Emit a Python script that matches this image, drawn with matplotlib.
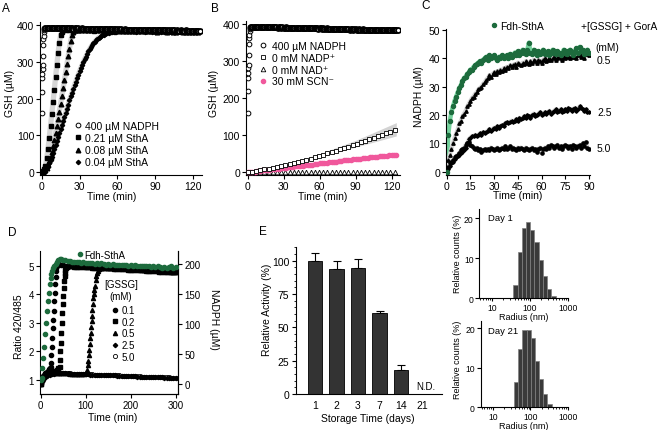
import numpy as np
import matplotlib
matplotlib.use("Agg")
import matplotlib.pyplot as plt
from matplotlib.lines import Line2D
from matplotlib.ticker import FixedLocator, MultipleLocator, LogLocator, NullFormatter

plt.rcParams['font.family'] = ['Liberation Sans', 'DejaVu Sans']
plt.rcParams['axes.linewidth'] = 0.8

W, H = 658, 431
fig = plt.figure(figsize=(W / 100, H / 100), dpi=100)
fig.patch.set_facecolor('white')

# ======================= DATA =======================
# ---- Panel A : GSH (uM) vs time (min)
tA_nadph = [0.2, 0.35, 0.5, 0.65, 0.8, 0.95, 1.1, 1.25, 1.4, 1.55, 1.7, 1.85, 2.0, 2.2, 2.4] + list(np.arange(3, 126, 1))
gA_nadph = [160, 218, 255, 267, 280, 290, 316, 346, 362, 371, 380, 386, 389, 391, 392,
            392, 392, 393, 392, 392, 392, 393, 392, 392, 392, 391, 392, 392, 391, 392, 392, 391, 391, 392, 391,
            391, 391, 390, 391, 391, 390, 391, 390, 390, 391, 390, 390, 390, 389, 390, 390, 389, 390, 389, 389,
            389, 390, 389, 389, 389, 388, 389, 389, 388, 389, 388, 388, 388, 389, 388, 388, 387, 388, 388, 387,
            388, 387, 387, 388, 387, 387, 387, 386, 387, 387, 386, 387, 387, 386, 386, 387, 386, 386, 386, 387,
            386, 386, 385, 386, 386, 385, 386, 386, 385, 385, 386, 385, 385, 386, 385, 385, 385, 384, 385, 385,
            384, 385, 385, 384, 385, 384, 384, 385, 384, 384, 384, 385, 384, 384, 383, 384, 384, 383, 384, 384,
            383, 384, 383]
n_rise_nadph = 15  # points of the initial rise (drawn as open circles)
tA_021 = list(np.arange(0, 18, 1)) + list(np.arange(19, 125, 2.5))
gA_021 = [0, 3, 8, 18, 38, 64, 94, 126, 158, 190, 224, 258, 292, 324, 352, 372, 382, 386,
          386, 386, 385, 386, 385, 385, 386, 385, 385, 384, 385, 385, 384, 385, 384, 384, 385, 384, 384, 383,
          384, 384, 383, 384, 383, 383, 384, 383, 383, 382, 383, 383, 382, 383, 382, 382, 383, 382, 382, 381,
          382, 382, 381]
tA_008 = list(np.arange(0, 28, 1)) + list(np.arange(29, 125, 2.5))
gA_008 = [0, 1, 3, 6, 12, 20, 30, 42, 56, 72, 88, 106, 125, 145, 165, 186, 207, 228, 250, 271, 293, 315,
          336, 357, 372, 381, 385, 386,
          386, 385, 386, 385, 385, 386, 385, 385, 384, 385, 384, 384, 385, 384, 384, 383, 384, 384, 383, 384,
          383, 383, 384, 383, 383, 382, 383, 383, 382, 383, 382, 382, 383, 382, 382, 381, 382, 382, 381]
tA_004 = list(np.arange(0, 61, 1)) + list(np.arange(62, 125, 2.5))
gA_004 = [0, 1, 3, 7, 12, 18, 25, 33, 42, 52, 62, 73, 84, 95, 106, 117, 129, 140, 151, 162,
          173, 184, 195, 206, 216, 226, 236, 246, 256, 265, 274, 283, 291, 299, 307, 314, 321, 328, 334, 340,
          345, 350, 354, 358, 362, 365, 368, 370, 372, 374, 376, 377, 378, 379, 380, 381, 381, 382, 382, 382, 383,
          383, 383, 384, 383, 383, 382, 383, 383, 382, 383, 382, 382, 383, 382, 382, 381, 382, 382, 381, 382,
          381, 381, 382, 381, 381, 380]
legend_A = ['400 µM NADPH', '0.21 µM SthA', '0.08 µM SthA', '0.04 µM SthA']

# ---- Panel B
tB_nadp = np.arange(0, 124, 3.5)
gB_nadp = [0, 2, 4, 6, 8, 10, 12, 14, 16.5, 19, 22, 25, 28, 31, 34, 37, 41, 44, 48, 51,
           55, 58, 62, 65, 69, 73, 77, 81, 85, 89, 93, 97, 101, 105, 110, 114]
tB_band = [0, 30, 60, 90, 124]
gB_band_lo = [0, 15, 40, 68, 98]
gB_band_hi = [0, 21, 50, 86, 134]
tB_nad = np.arange(0, 124, 3.5)
gB_nad = [0, 1, 1, 2, 2, 2, 2, 2, 2, 2, 2, 2, 2, 2, 2, 2, 2, 2, 2, 2,
          2, 2, 2, 2, 2, 2, 2, 2, 2, 2, 2, 2, 2, 2, 2, 2]
tB_scn = np.arange(0, 125, 2)
gB_scn = [0, 1, 1.5, 2, 3, 4, 5, 5.5, 6, 7, 8, 8.5, 9, 10, 11, 12, 12.5, 13, 14, 15,
          16, 16.5, 17, 18, 19, 20, 20.5, 21, 22, 23, 24, 24.5, 25, 26, 27, 28, 28.5, 29, 30, 31,
          32, 32.5, 33, 34, 35, 35.5, 36, 37, 38, 38.5, 39, 40, 41, 41.5, 42, 43, 44, 44.5, 45, 46,
          47, 47.5, 48]
legend_B = ['400 µM NADPH', '0 mM NADP\u207a', '0 mM NAD\u207a', '30 mM SCN\u207b']

# ---- Panel C : NADPH (uM)
tC = np.arange(0, 91, 1)
nC_fdh = [0, 13, 18, 21, 23, 25, 26.5, 28, 29.5, 30.5, 32, 33, 33.5, 34.5, 35, 36, 36, 37, 37.5, 38,
          38.5, 39, 38.5, 39.5, 40, 40.5, 39.5, 41, 40, 40.5, 41, 40, 39.5, 40.5, 40, 41, 40, 40.5, 41, 40,
          41.5, 40.5, 41, 42, 41, 42.5, 41, 42, 43, 42, 41.5, 43, 45.5, 42, 41.5, 43, 42, 41, 42.5, 41.5,
          42, 43, 41.5, 42, 42.5, 41, 42, 43, 42, 41.5, 42.5, 42, 41, 42, 43, 42, 41.5, 42.5, 43, 42,
          41, 42.5, 43.5, 42, 44, 42.5, 43, 41.5, 42, 43, 42]
nC_05 = [0, 4, 6, 8, 10, 12, 13.5, 15, 17, 18, 19.5, 20.5, 21.5, 23, 24, 25, 26, 26.5, 27.5, 28,
         29, 29.5, 30, 31, 31.5, 32.5, 33, 34, 33.5, 34.5, 35, 34.5, 35.5, 35, 36, 35.5, 36.5, 36, 37, 36.5,
         37.5, 37, 37.5, 38, 37, 38.5, 38, 37.5, 38.5, 38, 39, 38.5, 38, 39, 38.5, 39.5, 39, 38.5, 39.5, 39,
         38.5, 39.5, 40, 39, 39.5, 40, 39.5, 40, 40.5, 39.5, 40, 40.5, 40, 39.5, 40.5, 40, 40.5, 41, 40, 40.5,
         41, 40.5, 40, 41, 41.5, 40.5, 41, 40, 41.5, 42, 41]
nC_25 = [0, 1, 2, 3, 3.5, 4.5, 5, 5.5, 6, 6.5, 7, 7.5, 8.5, 10, 11.5, 12, 12.5, 12.5, 13, 12.5,
         13, 13.5, 13, 14, 13.5, 14, 14.5, 15, 14.5, 15, 15.5, 15, 16, 15.5, 16, 16.5, 16, 17, 17.5, 17,
         17.5, 18, 17.5, 18, 18.5, 18, 19, 18.5, 19, 19.5, 19, 20, 19.5, 19, 20, 20.5, 19.5, 20, 20.5, 21,
         20, 20.5, 21, 20.5, 21, 21.5, 20.5, 21, 21.5, 22, 21, 21.5, 22, 21, 21.5, 22, 21.5, 22.5, 22, 21.5,
         22, 22.5, 21.5, 22, 23, 22.5, 22, 21.5, 22, 21, 21]
nC_50 = [0, 1.5, 3, 3.5, 4, 5, 5.5, 6, 6.5, 7.5, 8, 8.5, 9.5, 10, 10.5, 9.5, 9, 8.5, 8, 8.5,
         7.5, 8, 7, 7.5, 8, 7.5, 8, 7.5, 8.5, 8, 7.5, 8, 8.5, 7.5, 8, 8.5, 8, 9, 8, 8.5,
         9, 8, 8.5, 8, 7.5, 8.5, 8, 8.5, 8, 7.5, 8.5, 8, 7.5, 8, 8.5, 7.5, 8, 7, 8, 8.5,
         6.5, 8, 8.5, 8, 9, 8.5, 9.5, 9, 8.5, 9, 9.5, 8.5, 9, 8, 9, 9.5, 9, 8.5, 9, 8,
         9.5, 9, 8.5, 9, 9.5, 8.5, 10, 9, 10.5, 8.5, 8]
conc_C = ['0.5', '2.5', '5.0']

# ---- Panel D : ratio 420/485 (left) and NADPH uM (right, Fdh-SthA)
tD_fdh = [0, 2, 4, 6, 8, 10, 12, 14, 16, 18, 20, 22, 24, 26, 28, 30, 33, 36, 39, 42] + list(np.arange(45, 301, 5))
nD_fdh = [6, 10, 26, 43, 62, 83, 102, 121, 138, 152, 166, 176, 183, 189, 193, 196, 200, 203, 206, 208,
          208, 207, 206, 205, 205, 204, 204, 203, 203, 202, 203, 202, 201, 202, 201, 200, 201, 200, 201, 200,
          199, 200, 199, 200, 199, 198, 199, 198, 199, 198, 197, 198, 197, 198, 197, 196, 197, 196, 197, 196,
          195, 196, 195, 196, 195, 194, 195, 194, 195, 196, 194, 195]
tD_01 = list(np.arange(0, 22, 2)) + [22, 23, 24, 25, 26, 27, 28, 29, 30, 31, 32, 33, 34, 35, 36, 38, 40] + list(np.arange(45, 301, 5))
rD_01 = [0.85, 0.95, 1.05, 1.12, 1.18, 1.22, 1.25, 1.28, 1.32, 1.38, 1.42,
         1.45, 1.6, 1.85, 2.15, 2.45, 2.8, 3.1, 3.4, 3.75, 4.05, 4.35, 4.6, 4.8, 4.92, 5.0, 5.05, 5.05,
         5.02, 5.01, 5.0, 5.0, 4.99, 4.99, 4.98, 4.98, 4.97, 4.97, 4.97, 4.96, 4.96, 4.96, 4.95, 4.95, 4.95,
         4.94, 4.94, 4.94, 4.93, 4.93, 4.92, 4.92, 4.92, 4.91, 4.91, 4.9, 4.9, 4.89, 4.89, 4.88, 4.88, 4.87,
         4.87, 4.86, 4.86, 4.85, 4.85, 4.84, 4.84, 4.83, 4.83, 4.82, 4.82, 4.81, 4.81, 4.8, 4.8, 4.79, 4.79, 4.78]
tD_02 = list(np.arange(0, 42, 3)) + [42, 43, 44, 45, 46, 47, 48, 49, 50, 51, 52, 53, 54, 55, 56, 58, 60] + list(np.arange(63, 301, 5))
rD_02 = [0.85, 0.98, 1.08, 1.15, 1.2, 1.22, 1.25, 1.26, 1.27, 1.28, 1.3, 1.32, 1.35, 1.4,
         1.45, 1.7, 2.0, 2.3, 2.65, 3.0, 3.35, 3.65, 3.95, 4.2, 4.45, 4.62, 4.75, 4.85, 4.9, 4.95, 4.97,
         4.97, 4.97, 4.96, 4.96, 4.96, 4.95, 4.95, 4.94, 4.94, 4.94, 4.93, 4.93, 4.92, 4.92, 4.92, 4.91, 4.91,
         4.9, 4.9, 4.9, 4.89, 4.89, 4.88, 4.88, 4.87, 4.87, 4.86, 4.86, 4.85, 4.85, 4.84, 4.84, 4.83, 4.83,
         4.82, 4.82, 4.81, 4.81, 4.8, 4.8, 4.79, 4.79, 4.78, 4.78, 4.77, 4.77, 4.76, 4.76]
tD_05 = list(np.arange(0, 103, 4)) + [102, 104, 105, 106, 107, 108, 109, 110, 111, 112, 113, 114, 115, 116, 117,
                                      118, 119, 120, 122, 124, 126, 128, 130, 133, 136] + list(np.arange(140, 301, 5))
rD_05 = [0.85, 1.0, 1.1, 1.16, 1.2, 1.22, 1.23, 1.23, 1.24, 1.24, 1.24, 1.23, 1.23, 1.23, 1.22, 1.22, 1.22,
         1.21, 1.21, 1.21, 1.2, 1.2, 1.2, 1.2, 1.19, 1.22,
         1.25, 1.35, 1.5, 1.65, 1.85, 2.05, 2.25, 2.45, 2.65, 2.85, 3.05, 3.25, 3.45, 3.65, 3.85, 4.0, 4.15,
         4.3, 4.5, 4.65, 4.75, 4.82, 4.87, 4.91, 4.93,
         4.94, 4.94, 4.93, 4.93, 4.93, 4.92, 4.92, 4.91, 4.91, 4.9, 4.9, 4.9, 4.89, 4.89, 4.88, 4.88, 4.87,
         4.87, 4.86, 4.86, 4.85, 4.85, 4.84, 4.84, 4.83, 4.83, 4.82, 4.81, 4.81, 4.8, 4.79, 4.79, 4.78]
tD_low = np.arange(0, 301, 5)
rD_25 = [0.85, 0.98, 1.08, 1.14, 1.18, 1.2, 1.21, 1.22, 1.22, 1.22, 1.22, 1.22, 1.21, 1.21, 1.21, 1.2,
         1.2, 1.2, 1.2, 1.19, 1.19, 1.19, 1.18, 1.18, 1.18, 1.17, 1.17, 1.17, 1.16, 1.16, 1.16, 1.15, 1.15,
         1.15, 1.14, 1.14, 1.14, 1.13, 1.13, 1.13, 1.12, 1.12, 1.12, 1.11, 1.11, 1.11, 1.1, 1.1, 1.1, 1.09,
         1.09, 1.09, 1.08, 1.08, 1.08, 1.07, 1.07, 1.07, 1.06, 1.06, 1.06]
rD_50 = [0.88, 1.02, 1.1, 1.16, 1.2, 1.22, 1.23, 1.23, 1.23, 1.23, 1.23, 1.22, 1.22, 1.22, 1.21, 1.21,
         1.21, 1.2, 1.2, 1.2, 1.2, 1.19, 1.19, 1.19, 1.18, 1.18, 1.18, 1.17, 1.17, 1.17, 1.16, 1.16, 1.16,
         1.15, 1.15, 1.15, 1.14, 1.14, 1.14, 1.13, 1.13, 1.13, 1.12, 1.12, 1.12, 1.11, 1.11, 1.11, 1.1, 1.1,
         1.1, 1.09, 1.09, 1.09, 1.08, 1.08, 1.08, 1.08, 1.07, 1.07, 1.07]
conc_D = ['0.1', '0.2', '0.5', '2.5', '5.0']

# ---- Panel E : storage stability
days = ['1', '2', '3', '7', '14', '21']
activity = [100, 94, 94.5, 60.5, 18, np.nan]
activity_err = [6, 6, 7, 2, 4, np.nan]

# ---- DLS histograms
radius_edges = [37, 48, 62, 80, 103, 133, 172, 222, 287, 370, 478]
counts_day1 = [3.3, 11.5, 17.5, 19.0, 17.0, 14.0, 9.5, 5.5, 2.3, 0.5]
counts_day21 = [6.3, 14.7, 19.5, 19.6, 17.6, 11.8, 7.1, 3.4, 0.8, 0.0]

# ======================= HELPERS =======================
def axes_px(l, t, r, b):
    ax = fig.add_axes([l / W, 1 - b / H, (r - l) / W, (b - t) / H])
    ax._pxb = (l, t, r, b)
    ax.patch.set_alpha(0)
    return ax


def style(ax, fs, pad=1.5):
    ax.spines['top'].set_visible(False)
    ax.spines['right'].set_visible(False)
    ax.tick_params(labelsize=fs, direction='out', length=3, width=0.8, pad=pad)


def ylab(ax, text, xpx, ypx, fs, right=False):
    l, t, r, b = ax._pxb
    if right:
        ax.set_ylabel(text, fontsize=fs, rotation=270, va='bottom')
    else:
        ax.set_ylabel(text, fontsize=fs)
    ax.yaxis.set_label_coords((xpx - l) / (r - l), (b - ypx) / (b - t))


def xlab(ax, text, xpx, ypx, fs):
    l, t, r, b = ax._pxb
    ax.set_xlabel(text, fontsize=fs)
    ax.xaxis.set_label_coords((xpx - l) / (r - l), (b - ypx) / (b - t))


def fig_anchor(x, y):
    return (x / W, 1 - y / H)


def nadph_circles(ax):
    n = n_rise_nadph
    ax.plot(tA_nadph[:n], gA_nadph[:n], ls='', marker='o', ms=3.4, mfc='white', mec='black', mew=0.7, zorder=4)
    ax.plot(tA_nadph[n:], gA_nadph[n:], ls='', marker='o', ms=3.6, mfc='white', mec='black', mew=1.3, zorder=4)


GRAY = '#d6d6d6'
GREEN = '#1d6b3d'

# ======================= PANEL A =======================
axA = axes_px(40.4, 23.0, 202.1, 175.9)
style(axA, 7.5)
for t, g in [(tA_004, gA_004), (tA_008, gA_008), (tA_021, gA_021)]:
    axA.plot(t, g, color=GRAY, lw=3.8, zorder=1, solid_capstyle='round')
axA.plot(tA_004, gA_004, ls='', marker='D', ms=2.2, color='black', zorder=3)
axA.plot(tA_008, gA_008, ls='', marker='^', ms=3.3, color='black', zorder=3)
axA.plot(tA_021, gA_021, ls='', marker='s', ms=3.2, color='black', zorder=3)
nadph_circles(axA)
axA.set_xlim(-1, 127)
axA.set_ylim(-7, 408)
axA.xaxis.set_major_locator(FixedLocator([0, 30, 60, 90, 120]))
axA.yaxis.set_major_locator(FixedLocator([0, 100, 200, 300, 400]))
ylab(axA, 'GSH (µM)', 15, 93, 7.5)
xlab(axA, 'Time (min)', 112, 192.5, 7.5)
hA = [Line2D([], [], ls='', marker='o', ms=3.4, mfc='white', mec='black', mew=0.7),
      Line2D([], [], ls='', marker='s', ms=3.2, color='black'),
      Line2D([], [], ls='', marker='^', ms=3.3, color='black'),
      Line2D([], [], ls='', marker='D', ms=2.2, color='black')]
axA.legend(hA, legend_A, loc='upper left', bbox_to_anchor=fig_anchor(74.4, 122.0), bbox_transform=fig.transFigure,
           frameon=False, fontsize=7.5, handlelength=0.7, handletextpad=0.3, labelspacing=0.2,
           borderpad=0, borderaxespad=0)
fig.text(2 / W, 1 - 12 / H, 'A', fontsize=8.5)

# ======================= PANEL B =======================
axB = axes_px(246.3, 22.0, 399.9, 175.9)
style(axB, 7.5)
axB.fill_between(tB_band, gB_band_lo, gB_band_hi, color='#d3d3d3', lw=0, zorder=1)
axB.plot(tB_nad, gB_nad, ls='', marker='^', ms=3.3, mfc='white', mec='black', mew=0.6, zorder=3)
axB.plot(tB_scn, gB_scn, ls='', marker='o', ms=3.0, color='#f0589c', zorder=3)
axB.plot(tB_nadp, gB_nadp, ls='', marker='s', ms=3.2, mfc='white', mec='black', mew=0.6, zorder=4)
nadph_circles(axB)
axB.set_xlim(-1, 127)
axB.set_ylim(-7, 408)
axB.xaxis.set_major_locator(FixedLocator([0, 30, 60, 90, 120]))
axB.yaxis.set_major_locator(FixedLocator([0, 100, 200, 300, 400]))
ylab(axB, 'GSH (µM)', 219, 93, 7.5)
xlab(axB, 'Time (min)', 323, 192.5, 7.5)
hB = [Line2D([], [], ls='', marker='o', ms=3.4, mfc='white', mec='black', mew=0.7),
      Line2D([], [], ls='', marker='s', ms=3.2, mfc='white', mec='black', mew=0.6),
      Line2D([], [], ls='', marker='^', ms=3.3, mfc='white', mec='black', mew=0.6),
      Line2D([], [], ls='', marker='o', ms=3.0, color='#f0589c')]
axB.legend(hB, legend_B, loc='upper left', bbox_to_anchor=fig_anchor(259.1, 42.0), bbox_transform=fig.transFigure,
           frameon=False, fontsize=7.5, handlelength=0.8, handletextpad=0.42, labelspacing=0.17,
           borderpad=0, borderaxespad=0)
fig.text(211 / W, 1 - 12 / H, 'B', fontsize=8.5)

# ======================= PANEL C =======================
axC = axes_px(446.2, 30.1, 589.8, 175.5)
style(axC, 7.5)
axC.plot(tC, nC_fdh, color='#74d19c', lw=3.2, zorder=1)
for s in (nC_05, nC_25, nC_50):
    axC.plot(tC, s, color=GRAY, lw=3.0, zorder=1)
axC.plot(tC, nC_50, ls='', marker='o', ms=2.3, color='black', zorder=3)
axC.plot(tC, nC_25, ls='', marker='D', ms=1.8, color='black', zorder=3)
axC.plot(tC, nC_05, ls='', marker='^', ms=2.4, color='black', zorder=3)
axC.plot(tC, nC_fdh, ls='', marker='o', ms=2.9, color=GREEN, zorder=4)
axC.set_xlim(-0.3, 90.5)
axC.set_ylim(-1, 50.3)
axC.xaxis.set_major_locator(FixedLocator([0, 15, 30, 45, 60, 75, 90]))
axC.yaxis.set_major_locator(FixedLocator([0, 10, 20, 30, 40, 50]))
ylab(axC, 'NADPH (µM)', 424, 97, 7.5)
xlab(axC, 'Time (min)', 518, 191.5, 7.5)
hC = [Line2D([], [], ls='', marker='o', ms=2.9, color=GREEN)]
axC.legend(hC, ['Fdh-SthA'], loc='center left', bbox_to_anchor=fig_anchor(490.9, 26.7), bbox_transform=fig.transFigure,
           frameon=False, fontsize=7.5, handlelength=0.6, handletextpad=0.3, borderpad=0, borderaxespad=0)
fig.text(581 / W, 1 - 26.7 / H, '+[GSSG] + GorA', fontsize=7.3, va='center')
fig.text(607 / W, 1 - 48 / H, '(mM)', fontsize=7.3, va='center', ha='center')
for lab, ypx in zip(conc_C, [61, 113.3, 149]):
    fig.text(597 / W, 1 - ypx / H, lab, fontsize=7.5, va='center')
fig.text(421 / W, 1 - 9 / H, 'C', fontsize=8.5)

# ======================= PANEL D =======================
axD = axes_px(40.0, 252.3, 177.9, 395.0)
axD.spines['top'].set_visible(False)
axD.tick_params(labelsize=7, direction='out', length=3, width=0.8, pad=1.5)
axD.plot(tD_low, rD_50, ls='', marker='o', ms=3.0, mfc='white', mec='black', mew=0.6, zorder=3)
axD.plot(tD_low, rD_25, ls='', marker='D', ms=2.2, color='black', zorder=3)
axD.plot(tD_05, rD_05, ls='', marker='^', ms=3.0, color='black', zorder=3)
axD.plot(tD_02, rD_02, ls='', marker='s', ms=2.9, color='black', zorder=3)
axD.plot(tD_01, rD_01, ls='', marker='o', ms=3.0, color='black', zorder=3)
axD.set_xlim(-1.5, 305)
axD.set_ylim(0.5, 5.5)
axD.xaxis.set_major_locator(FixedLocator([0, 100, 200, 300]))
axD.yaxis.set_major_locator(FixedLocator([1, 2, 3, 4, 5]))
ylab(axD, 'Ratio 420/485', 24, 327, 7.5)
xlab(axD, 'Time (min)', 112.5, 413.5, 7.5)
axD2 = axD.twinx()
axD2._pxb = axD._pxb
axD2.spines['top'].set_visible(False)
axD2.spines['left'].set_visible(False)
axD2.tick_params(labelsize=7, direction='out', length=3, width=0.8, pad=1.5)
axD2.plot(tD_fdh, nD_fdh, ls='', marker='o', ms=3.0, color=GREEN, zorder=4)
axD2.set_ylim(-16.7, 221)
axD2.yaxis.set_major_locator(FixedLocator([0, 50, 100, 150, 200]))
ylab(axD2, 'NADPH (µM)', 209, 319, 7.5, right=True)
hD = [Line2D([], [], ls='', marker='o', ms=3.0, color='black'),
      Line2D([], [], ls='', marker='s', ms=2.9, color='black'),
      Line2D([], [], ls='', marker='^', ms=3.0, color='black'),
      Line2D([], [], ls='', marker='D', ms=2.2, color='black'),
      Line2D([], [], ls='', marker='o', ms=3.0, mfc='white', mec='black', mew=0.6)]
legD = axD2.legend(hD, conc_D, loc='upper left', bbox_to_anchor=fig_anchor(112.6, 306.0),
                   bbox_transform=fig.transFigure, frameon=False, fontsize=7,
                   handlelength=0.5, handletextpad=0.45, labelspacing=0.17, borderpad=0, borderaxespad=0)
axD2.add_artist(legD)
fig.text(121 / W, 1 - 285 / H, '[GSSG]', fontsize=7, ha='center', va='center')
fig.text(121 / W, 1 - 296.7 / H, '(mM)', fontsize=7, ha='center', va='center')
hD2 = [Line2D([], [], ls='', marker='o', ms=3.0, color=GREEN)]
axD2.legend(hD2, ['Fdh-SthA'], loc='center left', bbox_to_anchor=fig_anchor(77.3, 255.7), bbox_transform=fig.transFigure,
            frameon=False, fontsize=7, handlelength=0.5, handletextpad=0.2, borderpad=0, borderaxespad=0)
fig.text(8 / W, 1 - 236 / H, 'D', fontsize=8.5)

# ======================= PANEL E =======================
axE = axes_px(295.65, 248.3, 441.85, 395.0)
style(axE, 7.5)
xE = np.arange(len(days))
axE.bar(xE, activity, width=0.68, color='#333333', edgecolor='black', lw=0.6, zorder=2)
axE.errorbar(xE, activity, yerr=[np.zeros(len(days)), activity_err], fmt='none', ecolor='black',
             elinewidth=0.8, capsize=2.6, capthick=0.8, zorder=1)
axE.set_xlim(-0.9, 5.9)
axE.set_ylim(0, 110)
axE.set_xticks(xE)
axE.set_xticklabels(days)
axE.tick_params(axis='x', length=0, pad=4)
axE.yaxis.set_major_locator(FixedLocator([0, 25, 50, 75, 100]))
axE.yaxis.set_minor_locator(MultipleLocator(5))
axE.tick_params(axis='y', which='minor', length=1.5, width=0.6)
axE.text(5.15, 2.0, 'N.D.', fontsize=7, ha='center', va='bottom')
ylab(axE, 'Relative Activity (%)', 272, 310, 7.5)
xlab(axE, 'Storage Time (days)', 368, 414.5, 7.5)
fig.text(259 / W, 1 - 235 / H, 'E', fontsize=8.5)

# ======================= HISTOGRAMS =======================
def hist_axes(bounds, counts, ytop, label, ylab_y, xlab_y, day_y):
    ax = axes_px(*bounds)
    style(ax, 6.2, pad=1.0)
    ax.set_xscale('log')
    ax.bar(radius_edges[:-1], counts, width=np.diff(radius_edges), align='edge',
           color='#3a3a3a', edgecolor='#808080', lw=0.5, zorder=2)
    ax.set_xlim(4.7, 1000)
    ax.set_ylim(0, ytop)
    ax.xaxis.set_major_locator(FixedLocator([10, 100, 1000]))
    ax.set_xticklabels(['10', '100', '1000'])
    ax.xaxis.set_minor_locator(LogLocator(base=10, subs=np.arange(2, 10)))
    ax.xaxis.set_minor_formatter(NullFormatter())
    ax.tick_params(axis='x', which='major', length=2.5)
    ax.tick_params(axis='x', which='minor', length=1.5, width=0.6)
    ax.yaxis.set_major_locator(FixedLocator([0, 10, 20]))
    ylab(ax, 'Relative counts (%)', 462, ylab_y, 6.5)
    xlab(ax, 'Radius (nm)', 523.5, xlab_y, 6.5)
    fig.text(488 / W, 1 - day_y / H, label, fontsize=6.8, va='center')
    return ax

hist_axes((479.3, 210.2, 567.7, 299.3), counts_day1, 22.2, 'Day 1', 254, 313, 219)
hist_axes((480.5, 321.9, 567.7, 408.3), counts_day21, 21.8, 'Day 21', 360, 422.5, 332)

fig.savefig('out.png', dpi=100)
